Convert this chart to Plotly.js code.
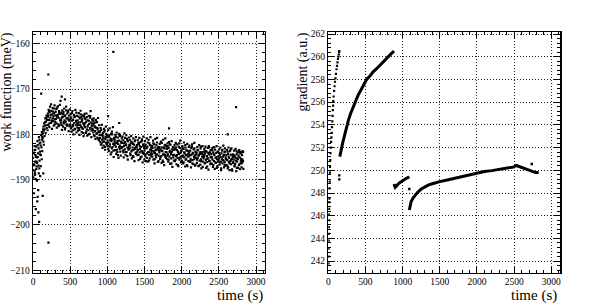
<!DOCTYPE html>
<html>
<head>
<meta charset="utf-8">
<script src="https://cdn.plot.ly/plotly-3.0.1.min.js"></script>
<style>html,body{margin:0;padding:0;background:#fff;}#chart{width:592px;height:305px;}</style>
</head>
<body>
<div id="chart"></div>
<script>
// ---- Left panel: work function (meV) vs time (s) ----
const wfTime = [
0,5,10,15,20,25,30,35,40,45,50,55,60,65,70,75,80,85,90,95,
100,105,110,115,120,125,130,135,140,145,150,155,160,165,170,175,180,185,190,195,
200,205,210,215,220,225,230,235,240,245,250,255,260,265,270,275,280,285,290,295,
300,305,310,315,320,325,330,335,340,345,350,355,360,365,370,375,380,385,390,395,
400,405,410,415,420,425,430,435,440,445,450,455,460,465,470,475,480,485,490,495,
500,505,510,515,520,525,530,535,540,545,550,555,560,565,570,575,580,585,590,595,
600,605,610,615,620,625,630,635,640,645,650,655,660,665,670,675,680,685,690,695,
700,705,710,715,720,725,730,735,740,745,750,755,760,765,770,775,780,785,790,795,
800,805,810,815,820,825,830,835,840,845,850,855,860,865,870,875,880,885,890,895,
900,905,910,915,920,925,930,935,940,945,950,955,960,965,970,975,980,985,990,995,
1000,1005,1010,1015,1020,1025,1030,1035,1040,1045,1050,1055,1060,1065,1070,1075,1080,1085,1090,1095,
1100,1105,1110,1115,1120,1125,1130,1135,1140,1145,1150,1155,1160,1165,1170,1175,1180,1185,1190,1195,
1200,1205,1210,1215,1220,1225,1230,1235,1240,1245,1250,1255,1260,1265,1270,1275,1280,1285,1290,1295,
1300,1305,1310,1315,1320,1325,1330,1335,1340,1345,1350,1355,1360,1365,1370,1375,1380,1385,1390,1395,
1400,1405,1410,1415,1420,1425,1430,1435,1440,1445,1450,1455,1460,1465,1470,1475,1480,1485,1490,1495,
1500,1505,1510,1515,1520,1525,1530,1535,1540,1545,1550,1555,1560,1565,1570,1575,1580,1585,1590,1595,
1600,1605,1610,1615,1620,1625,1630,1635,1640,1645,1650,1655,1660,1665,1670,1675,1680,1685,1690,1695,
1700,1705,1710,1715,1720,1725,1730,1735,1740,1745,1750,1755,1760,1765,1770,1775,1780,1785,1790,1795,
1800,1805,1810,1815,1820,1825,1830,1835,1840,1845,1850,1855,1860,1865,1870,1875,1880,1885,1890,1895,
1900,1905,1910,1915,1920,1925,1930,1935,1940,1945,1950,1955,1960,1965,1970,1975,1980,1985,1990,1995,
2000,2005,2010,2015,2020,2025,2030,2035,2040,2045,2050,2055,2060,2065,2070,2075,2080,2085,2090,2095,
2100,2105,2110,2115,2120,2125,2130,2135,2140,2145,2150,2155,2160,2165,2170,2175,2180,2185,2190,2195,
2200,2205,2210,2215,2220,2225,2230,2235,2240,2245,2250,2255,2260,2265,2270,2275,2280,2285,2290,2295,
2300,2305,2310,2315,2320,2325,2330,2335,2340,2345,2350,2355,2360,2365,2370,2375,2380,2385,2390,2395,
2400,2405,2410,2415,2420,2425,2430,2435,2440,2445,2450,2455,2460,2465,2470,2475,2480,2485,2490,2495,
2500,2505,2510,2515,2520,2525,2530,2535,2540,2545,2550,2555,2560,2565,2570,2575,2580,2585,2590,2595,
2600,2605,2610,2615,2620,2625,2630,2635,2640,2645,2650,2655,2660,2665,2670,2675,2680,2685,2690,2695,
2700,2705,2710,2715,2720,2725,2730,2735,2740,2745,2750,2755,2760,2765,2770,2775,2780,2785,2790,2795,
2800,2805,2810,2815,2820,2825,2830
];
const wfValue = [
-185.2,-187.9,-184.1,-186.6,-183.5,-188.4,-186.0,-189.8,-184.9,-182.7,-187.1,-186.3,-181.5,-185.0,-192.3,-183.1,-180.6,-187.5,-182.0,-184.4,
-181.8,-184.6,-180.2,-182.9,-179.5,-183.7,-180.8,-178.9,-181.6,-179.2,-177.6,-180.4,-178.1,-176.5,-179.7,-177.2,-175.9,-178.6,-176.8,-179.1,
-175.4,-177.9,-174.6,-176.8,-178.4,-175.1,-173.9,-176.3,-177.5,-174.8,-176.9,-178.8,-175.6,-174.2,-177.1,-176.0,-178.1,-175.3,-173.6,-176.7,
-177.3,-175.0,-176.6,-174.4,-178.5,-176.1,-175.7,-173.8,-177.8,-176.4,-174.9,-178.0,-175.5,-176.9,-172.6,-177.4,-175.2,-176.3,-179.0,-174.7,
-176.2,-178.3,-175.1,-177.6,-174.3,-176.9,-178.9,-175.8,-177.2,-173.9,-176.5,-178.1,-175.4,-177.9,-174.8,-176.7,-179.3,-175.9,-177.0,-174.5,
-177.8,-175.6,-178.7,-176.3,-179.4,-177.0,-174.9,-178.2,-176.8,-180.0,-175.7,-177.5,-178.9,-176.1,-174.6,-178.0,-177.2,-179.6,-175.9,-177.7,
-176.9,-179.2,-177.4,-175.3,-178.6,-180.1,-176.5,-177.9,-174.8,-178.3,-176.2,-179.5,-177.1,-175.8,-178.8,-177.6,-180.4,-176.0,-178.1,-175.5,
-178.4,-176.6,-179.7,-177.2,-175.4,-178.9,-180.3,-176.9,-178.0,-179.1,-175.9,-177.7,-179.9,-176.3,-178.6,-174.9,-177.4,-180.6,-178.2,-176.7,
-178.8,-177.0,-179.6,-176.5,-180.2,-178.1,-177.4,-179.3,-181.0,-176.8,-178.5,-179.9,-177.3,-180.7,-178.9,-176.4,-179.5,-181.3,-178.0,-180.1,
-179.4,-181.7,-178.6,-182.3,-180.1,-177.9,-181.2,-183.0,-179.8,-180.9,-182.5,-178.8,-181.6,-179.2,-183.4,-180.5,-178.3,-182.0,-180.7,-181.9,
-180.3,-182.6,-179.1,-181.8,-183.7,-180.6,-178.7,-182.2,-181.3,-184.4,-179.9,-181.5,-183.1,-180.0,-182.8,-178.4,-181.1,-185.0,-180.8,-182.4,
-181.2,-183.5,-180.1,-182.7,-184.3,-179.6,-181.9,-183.9,-180.7,-182.1,-185.2,-181.4,-179.9,-183.2,-182.5,-180.4,-184.7,-181.6,-183.0,-180.9,
-182.8,-180.5,-183.6,-181.3,-185.1,-182.0,-179.8,-183.3,-181.7,-184.5,-182.4,-180.2,-183.9,-181.0,-182.9,-185.6,-181.5,-183.4,-180.7,-182.6,
-183.1,-181.2,-184.2,-182.0,-180.4,-183.7,-185.3,-181.8,-182.9,-184.8,-180.9,-183.4,-182.3,-185.9,-181.5,-183.0,-184.1,-180.6,-182.7,-183.9,
-182.4,-184.6,-181.3,-183.5,-185.7,-182.1,-180.8,-184.0,-183.2,-181.7,-185.0,-182.8,-184.9,-181.1,-183.8,-186.2,-182.5,-180.5,-184.3,-183.0,
-183.6,-181.5,-184.8,-182.3,-185.9,-183.1,-180.9,-184.2,-182.7,-186.0,-183.9,-181.2,-184.5,-182.0,-185.3,-183.4,-180.6,-184.7,-182.9,-183.7,
-182.6,-184.9,-183.0,-181.4,-185.6,-183.8,-182.2,-186.4,-184.1,-181.0,-183.5,-185.1,-182.4,-184.4,-180.8,-183.2,-186.1,-182.8,-184.7,-183.6,
-184.0,-182.1,-185.4,-183.3,-181.6,-184.8,-186.3,-182.9,-183.7,-185.8,-181.2,-184.3,-183.0,-186.8,-182.5,-184.6,-180.9,-183.9,-185.2,-182.7,
-183.2,-185.5,-182.0,-184.4,-186.0,-183.0,-181.7,-184.9,-183.6,-186.5,-182.3,-184.1,-185.3,-181.5,-183.8,-187.2,-182.8,-184.6,-183.4,-185.8,
-184.5,-182.4,-185.9,-183.1,-181.9,-184.8,-186.6,-183.5,-182.2,-185.2,-184.0,-187.0,-182.7,-184.3,-185.6,-183.0,-181.4,-184.9,-186.2,-183.7,
-183.5,-185.8,-182.6,-184.7,-186.4,-183.2,-181.8,-185.1,-184.2,-187.1,-182.9,-184.6,-185.5,-183.4,-186.8,-182.1,-184.9,-183.7,-185.9,-184.3,
-184.8,-182.5,-186.1,-183.6,-185.4,-187.3,-183.0,-184.4,-182.2,-185.7,-184.1,-186.6,-183.3,-185.0,-181.9,-184.7,-186.9,-183.8,-185.2,-184.0,
-184.1,-186.3,-182.8,-185.2,-183.5,-187.0,-184.7,-182.4,-185.8,-184.3,-186.7,-183.1,-185.5,-187.5,-183.9,-184.9,-182.6,-186.0,-184.5,-185.3,
-185.0,-183.2,-186.4,-184.2,-182.7,-185.7,-187.4,-183.8,-184.8,-186.1,-183.0,-185.3,-187.8,-184.4,-182.9,-185.9,-184.0,-186.6,-183.5,-185.1,
-184.3,-186.5,-183.1,-185.6,-187.2,-184.0,-182.8,-185.9,-184.6,-187.6,-183.4,-185.2,-186.3,-184.1,-182.6,-185.5,-187.0,-183.9,-186.0,-184.8,
-185.3,-183.3,-186.7,-184.5,-182.9,-186.0,-187.9,-184.2,-185.4,-183.6,-186.4,-184.9,-182.5,-185.8,-187.3,-184.0,-186.2,-183.8,-185.1,-186.9,
-184.6,-186.8,-183.4,-185.7,-187.5,-184.3,-182.9,-186.1,-185.2,-187.9,-183.7,-185.9,-184.5,-186.6,-183.1,-185.4,-188.0,-184.8,-186.3,-185.0,
-185.6,-183.6,-187.1,-184.9,-186.5,-183.2,-185.8,-188.1,-184.4,-186.0,-183.9,-185.3,-187.4,-184.7,-186.8,-183.5,-185.1,-187.7,-184.2,-186.3,
-185.4,-187.3,-184.0,-186.2,-183.7,-185.9,-187.6
];
// second, interleaved set of readings
const wfTimeB = [
2,11,23,31,44,52,63,74,86,93,
103,112,124,133,141,156,164,177,182,198,
204,216,221,237,243,252,268,271,286,292,
302,314,327,331,346,353,361,378,384,397,
408,412,426,433,447,451,466,474,489,492,
503,518,522,536,541,557,564,579,583,596,
607,613,624,638,642,659,661,677,688,694,
702,716,723,734,749,752,768,771,787,798,
806,811,828,832,843,857,866,872,884,891,
903,917,922,938,944,951,969,973,986,994,
1004,1012,1027,1033,1048,1056,1061,1079,1082,1097,
1108,1113,1129,1136,1142,1158,1163,1174,1189,1191,
1202,1217,1224,1239,1246,1253,1268,1271,1283,1296,
1306,1311,1323,1338,1347,1352,1369,1374,1388,1393,
1403,1416,1421,1437,1442,1459,1463,1478,1484,1497,
1507,1512,1528,1531,1544,1556,1562,1577,1586,1591,
1604,1618,1623,1636,1645,1651,1667,1672,1689,1693,
1702,1714,1727,1733,1748,1754,1766,1779,1781,1797,
1806,1813,1825,1838,1841,1857,1862,1874,1888,1892,
1903,1919,1924,1936,1947,1952,1968,1971,1984,1999,
2008,2011,2026,2033,2049,2054,2063,2077,2082,2096,
2102,2117,2121,2138,2144,2155,2169,2172,2186,2193,
2206,2213,2228,2232,2245,2257,2261,2276,2283,2298,
2304,2316,2322,2337,2343,2358,2366,2371,2389,2394,
2407,2412,2426,2434,2441,2453,2468,2473,2485,2496,
2503,2519,2524,2531,2546,2552,2567,2578,2581,2597,
2602,2618,2625,2633,2644,2659,2664,2676,2687,2694,
2706,2713,2727,2738,2742,2756,2761,2778,2784,2797,
2803,2812,2818,2827
];
const wfValueB = [
-186.8,-184.2,-188.9,-183.4,-187.6,-185.1,-182.4,-186.9,-181.2,-183.8,
-182.5,-180.1,-181.2,-179.8,-178.3,-178.9,-177.3,-176.4,-178.0,-175.8,
-176.1,-174.9,-177.6,-175.7,-173.4,-177.2,-175.0,-176.5,-174.3,-177.8,
-175.8,-177.6,-174.1,-176.0,-178.2,-175.3,-173.5,-176.8,-177.9,-175.6,
-175.5,-177.3,-176.0,-178.6,-174.7,-177.8,-176.4,-175.1,-178.2,-176.9,
-176.6,-178.4,-175.3,-177.9,-179.1,-176.2,-178.8,-177.0,-175.2,-178.5,
-178.0,-176.1,-179.0,-177.3,-175.6,-178.5,-176.7,-179.7,-177.8,-176.4,
-177.5,-179.4,-176.2,-178.3,-180.0,-177.0,-178.7,-176.0,-179.2,-177.8,
-179.0,-177.6,-180.4,-178.4,-176.9,-179.8,-178.6,-180.9,-179.4,-181.2,
-180.8,-179.0,-182.0,-180.4,-181.6,-179.5,-182.8,-181.0,-179.9,-182.3,
-181.4,-183.2,-180.2,-182.7,-181.0,-184.0,-179.4,-182.1,-183.6,-181.7,
-182.0,-180.6,-183.4,-181.5,-184.6,-182.8,-180.3,-183.8,-181.9,-182.9,
-181.9,-184.0,-182.6,-180.8,-183.9,-182.2,-184.8,-181.4,-183.1,-182.3,
-182.5,-184.6,-181.6,-183.5,-182.1,-185.0,-183.2,-181.3,-184.3,-182.8,
-183.3,-181.9,-184.5,-182.6,-185.4,-183.7,-181.5,-184.1,-182.2,-185.6,
-182.6,-184.4,-183.0,-185.2,-181.8,-183.9,-185.8,-182.4,-184.2,-183.3,
-184.3,-182.0,-183.7,-185.5,-182.9,-184.6,-181.8,-183.4,-185.9,-183.0,
-182.8,-185.0,-183.6,-181.9,-184.5,-186.1,-183.1,-184.9,-182.3,-184.0,
-184.7,-182.6,-185.6,-183.9,-182.2,-184.4,-186.4,-183.3,-185.1,-182.9,
-183.4,-185.6,-182.9,-184.6,-186.8,-183.8,-182.0,-185.3,-184.1,-186.0,
-184.9,-183.0,-186.2,-184.0,-182.4,-185.6,-183.6,-187.0,-184.4,-182.8,
-183.9,-185.9,-184.6,-182.7,-186.4,-184.2,-185.5,-183.1,-186.7,-184.5,
-185.6,-183.4,-184.6,-186.9,-184.0,-182.7,-185.9,-184.3,-187.2,-183.8,
-184.6,-186.3,-183.7,-185.4,-187.1,-184.1,-182.6,-185.8,-184.9,-186.4,
-185.1,-183.5,-186.8,-184.4,-182.9,-186.2,-185.0,-187.4,-183.8,-185.7,
-184.1,-186.2,-185.0,-187.5,-183.4,-185.7,-184.6,-186.8,-183.1,-185.4,
-185.6,-183.8,-187.2,-184.9,-186.4,-183.3,-185.7,-187.7,-184.4,-186.1,
-184.6,-186.9,-185.2,-183.7,-187.4,-185.5,-184.0,-186.6,-183.9,-185.8,
-186.4,-184.6,-185.6,-183.9
];
// scattered / outlying readings
const wfExtraTime  = [3,12,18,22,28,33,38,47,52,58,63,67,72,78,82,88,96,104,110,118,125,130,139,145,206,208,386,430,1081,1830,2732,2620,1160,1010];
const wfExtraValue = [-189.5,-193.0,-186.8,-182.6,-188.9,-184.6,-196.5,-186.0,-190.2,-194.8,-193.8,-184.2,-197.2,-188.6,-199.3,-185.8,-189.2,-187.0,-171.0,-185.5,-180.6,-193.6,-188.6,-182.3,-166.8,-203.9,-171.7,-172.3,-161.8,-178.7,-174.0,-180.0,-177.5,-176.0];

// ---- Right panel: gradient (a.u.) vs time (s) ----
const gradSeg1Time  = [2,3,4,5,6,7,8,9,10,12,13,16,18,21,23,27,30,34,38,42,46,50,54,58,61,64,67,72,78,84,90,96,103,110,117,124,130,136,141,145,147];
const gradSeg1Value = [241.8,242.4,243.1,243.8,244.4,245.0,245.6,246.1,246.6,247.2,247.5,248.4,249.0,249.8,250.3,250.9,251.5,252.0,252.5,252.9,253.3,253.8,254.3,254.8,255.3,255.7,256.1,256.5,257.0,257.4,257.8,258.1,258.5,258.9,259.2,259.5,259.8,260.0,260.2,260.4,260.5];
const gradTime  = [155,160,170,180,190,200,215,230,250,270,300,330,360,400,450,515,560,600,650,700,750,795,850,885, null,
  884,893,900,915,930,950,970,990,1010,1030,1050,1070,1088, null,
  1090,1095,1100,1115,1140,1170,1200,1250,1300,1350,1400,1450,1500,1600,1700,1800,1900,2000,2100,2200,2300,2400,2450,2500,2530,2560,2600,2650,2700,2750,2790,2830];
const gradValue = [251.2,251.4,251.7,252.0,252.3,252.6,253.0,253.4,254.0,254.4,255.0,255.5,256.0,256.6,257.2,258.0,258.3,258.65,258.95,259.3,259.65,260.0,260.3,260.5, null,
  248.8,248.5,248.5,248.6,248.75,248.85,248.95,249.05,249.1,249.2,249.3,249.35,249.45, null,
  246.5,246.7,246.95,247.25,247.55,247.85,248.05,248.35,248.55,248.72,248.82,248.92,249.0,249.15,249.3,249.5,249.65,249.8,249.9,249.97,250.07,250.17,250.22,250.3,250.42,250.35,250.25,250.15,250.0,249.85,249.8,249.8];
const gradExtraTime  = [148,148,1090,2737];
const gradExtraValue = [249.2,249.55,248.35,250.55];

const FONT = 'Liberation Serif, Times New Roman, serif';
function axisStyle(extra){
  return Object.assign({
    showline:true, linecolor:'#000', linewidth:1.3, mirror:'allticks',
    ticks:'inside', ticklen:6, tickwidth:1, tickcolor:'#000',
    showgrid:true, gridcolor:'#222', griddash:'1px,2px', gridwidth:1,
    zeroline:false, tickfont:{family:FONT, size:9.5, color:'#000'},
    fixedrange:true
  }, extra);
}
const mk = {color:'#000', size:2.2, symbol:'square', line:{width:0}};
const traces = [
  {x:wfTime, y:wfValue, type:'scatter', mode:'markers', marker:mk, xaxis:'x', yaxis:'y', hoverinfo:'skip'},
  {x:wfTimeB, y:wfValueB, type:'scatter', mode:'markers', marker:mk, xaxis:'x', yaxis:'y', hoverinfo:'skip'},
  {x:wfExtraTime, y:wfExtraValue, type:'scatter', mode:'markers', marker:mk, xaxis:'x', yaxis:'y', hoverinfo:'skip'},
  {x:gradSeg1Time, y:gradSeg1Value, type:'scatter', mode:'markers', marker:{color:'#000', size:2.2, symbol:'square'}, xaxis:'x2', yaxis:'y2', hoverinfo:'skip'},
  {x:gradTime, y:gradValue, type:'scatter', mode:'lines', line:{color:'#000', width:3}, connectgaps:false, xaxis:'x2', yaxis:'y2', hoverinfo:'skip'},
  {x:gradExtraTime, y:gradExtraValue, type:'scatter', mode:'markers', marker:{color:'#000', size:2.4, symbol:'square'}, xaxis:'x2', yaxis:'y2', hoverinfo:'skip'}
];
const yDom = [1-272.7/305, 1-32/305];
const layout = {
  width:592, height:305, showlegend:false,
  paper_bgcolor:'#fff', plot_bgcolor:'#fff',
  margin:{l:0,r:0,t:0,b:0},
  xaxis: axisStyle({domain:[33/592, 265/592], range:[0,3121], dtick:500, tick0:0, anchor:'y',
    minor:{ticks:'inside', ticklen:3, tickcolor:'#000', dtick:100, showgrid:false}}),
  yaxis: axisStyle({domain:yDom, range:[-210.53,-157.42], dtick:10, tick0:0, anchor:'x',
    minor:{ticks:'inside', ticklen:3, tickcolor:'#000', dtick:2, showgrid:false}}),
  xaxis2: axisStyle({domain:[328.3/592, 560.3/592], range:[0,3121], dtick:500, tick0:0, anchor:'y2',
    minor:{ticks:'inside', ticklen:3, tickcolor:'#000', dtick:100, showgrid:false}}),
  yaxis2: axisStyle({domain:yDom, range:[240.98,262.18], dtick:2, tick0:0, anchor:'x2',
    minor:{ticks:'inside', ticklen:3, tickcolor:'#000', dtick:0.4, showgrid:false}}),
  annotations:[
    {text:'time (s)', xref:'paper', yref:'paper', x:265/592, y:1-295/305, xanchor:'right', yanchor:'middle', showarrow:false, font:{family:FONT, size:15, color:'#000'}},
    {text:'time (s)', xref:'paper', yref:'paper', x:559/592, y:1-295/305, xanchor:'right', yanchor:'middle', showarrow:false, font:{family:FONT, size:15, color:'#000'}},
    {text:'work function (meV)', xref:'paper', yref:'paper', x:7/592, y:1-31/305, xanchor:'center', yanchor:'top', textangle:-90, showarrow:false, font:{family:FONT, size:14, color:'#000'}},
    {text:'gradient (a.u.)', xref:'paper', yref:'paper', x:303/592, y:1-31/305, xanchor:'center', yanchor:'top', textangle:-90, showarrow:false, font:{family:FONT, size:14, color:'#000'}}
  ]
};
Plotly.newPlot('chart', traces, layout, {displayModeBar:false, staticPlot:true});
</script>
</body>
</html>
